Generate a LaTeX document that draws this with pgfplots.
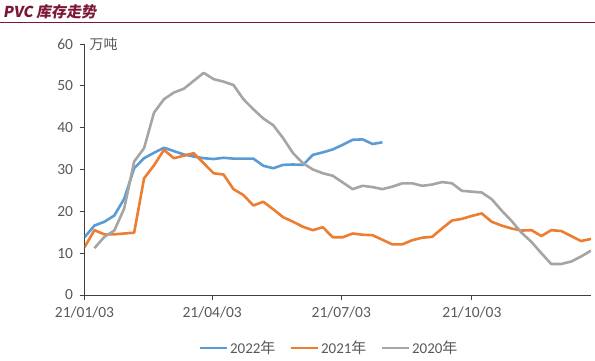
\documentclass[border=0pt]{standalone}
\usepackage{fontspec}
\setmainfont{Carlito}
\newfontfamily\cjk{Noto Sans CJK SC}
\newfontfamily\titlefont[FakeSlant=0.15]{Noto Sans CJK SC}
\usepackage{pgfplots}
\pgfplotsset{compat=1.18}
\definecolor{c22}{HTML}{5B9BD5}
\definecolor{c21}{HTML}{ED7D31}
\definecolor{c20}{HTML}{A5A5A5}
\definecolor{maroon}{HTML}{7D1736}
\definecolor{tickgray}{HTML}{595959}
\begin{document}
\begin{tikzpicture}[x=1pt,y=1pt]
\useasboundingbox (0,0) rectangle (595,361);
\node[anchor=base west, inner sep=0, text=maroon, font=\titlefont\bfseries\fontsize{15}{17}\selectfont] at (3,343) {PVC 库存走势};
\draw[maroon, line width=1pt] (0,338.7) -- (595,338.7);
\begin{axis}[
  at={(84.5pt,66pt)}, anchor=south west,
  scale only axis, width=506.5pt, height=251pt,
  xmin=0, xmax=51, ymin=0, ymax=60,
  clip mode=individual,
  axis lines=left,
  axis line style={-, draw=black!75, line width=0.8pt},
  tick align=outside, major tick length=5pt,
  tick style={black!75, line width=0.8pt},
  ytick={0,10,...,60},
  xtick={0,12.857,25.857,39},
  xticklabels={21/01/03,21/04/03,21/07/03,21/10/03},
  ticklabel style={text=tickgray, font=\fontsize{15.5}{18}\selectfont},
  yticklabel style={xshift=-3pt},
  xticklabel style={yshift=-3pt},
  /pgf/number format/assume math mode=true,
  legend columns=3,
  legend style={draw=none, at={(0.4827,-0.211)}, anchor=center,
    font=\fontsize{15}{17}\selectfont, text=tickgray,
    /tikz/every even column/.append style={column sep=12pt}},
  legend image code/.code={\draw[#1, line width=2.6pt] (0pt,0pt) -- (27pt,0pt);},
  every axis plot/.append style={line width=2.6pt, line join=round, no markers},
]
\addplot[c22] coordinates {(0,13.8)(1,16.6)(2,17.5)(3,19.0)(4,23.0)(5,30.3)(6,32.7)(7,34.0)(8,35.2)(9,34.4)(10,33.6)(11,33.1)(12,32.7)(13,32.5)(14,32.8)(15,32.6)(16,32.6)(17,32.6)(18,30.9)(19,30.3)(20,31.1)(21,31.2)(22,31.1)(23,33.5)(24,34.1)(25,34.8)(26,35.9)(27,37.1)(28,37.2)(29,36.1)(30,36.5)};
\addlegendentry{2022{\cjk 年}}
\addplot[c21] coordinates {(0,11.4)(1,15.5)(2,14.5)(3,14.5)(4,14.7)(5,14.9)(6,27.9)(7,31.0)(8,34.7)(9,32.7)(10,33.3)(11,33.9)(12,31.5)(13,29.1)(14,28.8)(15,25.3)(16,23.9)(17,21.4)(18,22.3)(19,20.5)(20,18.6)(21,17.5)(22,16.3)(23,15.5)(24,16.2)(25,13.8)(26,13.8)(27,14.7)(28,14.4)(29,14.3)(30,13.2)(31,12.1)(32,12.1)(33,13.1)(34,13.7)(35,13.9)(36,15.9)(37,17.8)(38,18.2)(39,18.9)(40,19.5)(41,17.5)(42,16.6)(43,15.9)(44,15.4)(45,15.5)(46,14.1)(47,15.5)(48,15.3)(49,14.1)(50,12.9)(51,13.4)};
\addlegendentry{2021{\cjk 年}}
\addplot[c20] coordinates {(1,11.2)(2,13.9)(3,15.4)(4,20.7)(5,31.9)(6,35.1)(7,43.6)(8,46.8)(9,48.4)(10,49.3)(11,51.2)(12,53.1)(13,51.6)(14,51.0)(15,50.2)(16,46.8)(17,44.4)(18,42.2)(19,40.6)(20,37.5)(21,33.9)(22,31.5)(23,30.0)(24,29.1)(25,28.5)(26,26.9)(27,25.3)(28,26.1)(29,25.8)(30,25.3)(31,25.9)(32,26.7)(33,26.7)(34,26.1)(35,26.4)(36,27.0)(37,26.7)(38,24.9)(39,24.7)(40,24.5)(41,22.9)(42,20.2)(43,17.7)(44,14.9)(45,12.7)(46,10.0)(47,7.4)(48,7.4)(49,8.0)(50,9.2)(51,10.6)};
\addlegendentry{2020{\cjk 年}}
\node[anchor=west, inner sep=0, text=tickgray, font=\cjk\fontsize{14}{16}\selectfont] at (axis cs:0,60) [xshift=5pt] {万吨};
\end{axis}
\end{tikzpicture}
\end{document}
